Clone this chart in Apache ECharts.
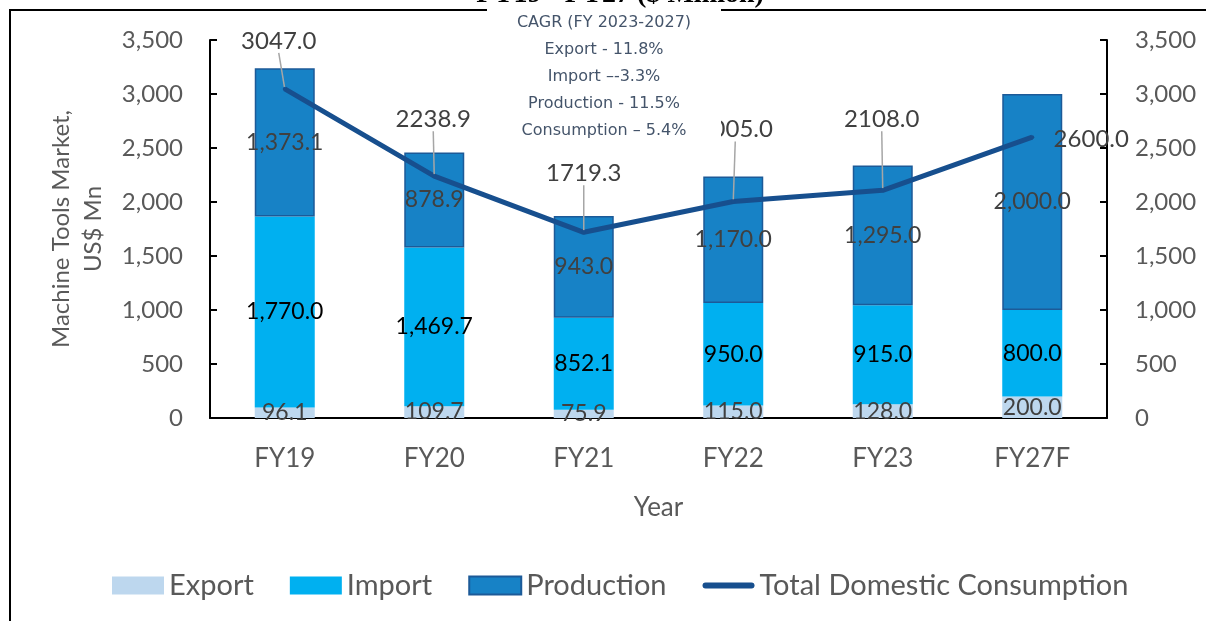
<!DOCTYPE html>
<html>
<head>
<meta charset="utf-8">
<title>Machine Tools Market</title>
<script src="https://cdn.jsdelivr.net/npm/echarts@6/dist/echarts.min.js"></script>
<style>html,body{margin:0;padding:0;background:#fff;}</style>
</head>
<body>
<div id="main" style="width:1206px;height:621px;"></div>
<script type="text/javascript">
    // chart data
    var years = ['FY19', 'FY20', 'FY21', 'FY22', 'FY23', 'FY27F'];
    var exportVals = [96.1, 109.7, 75.9, 115.0, 128.0, 200.0];
    var importVals = [1770.0, 1469.7, 852.1, 950.0, 915.0, 800.0];
    var productionVals = [1373.1, 878.9, 943.0, 1170.0, 1295.0, 2000.0];
    var consumptionVals = [3047.0, 2238.9, 1719.3, 2005.0, 2108.0, 2600.0];
    var cagrLines = ['CAGR (FY 2023-2027)', 'Export - 11.8%', 'Import \u2013-3.3%', 'Production - 11.5%', 'Consumption \u2013 5.4%'];

    var FONT = 'Lato';
    var lineColor = '#174F8E';
    // callout shifts for the consumption labels (manually placed in the original)
    var calloutDx = [-6, -1, 0, 2, -1];
    var calloutDy = [-34, -43, -45, -58, -57];

    function fmtComma(v) {
        return Number(v).toLocaleString('en-US', {minimumFractionDigits: 1, maximumFractionDigits: 1});
    }

    var lastIdx = consumptionVals.length - 1;
    var lineData = consumptionVals.map(function (v, i) {
        return {value: v, labelLine: {show: i !== lastIdx}};
    });

    var myChart = echarts.init(document.getElementById('main'));

    var option = {
        backgroundColor: '#fff',
        animation: false,
        title: {
            text: 'FY19 - FY27 ($ Million)',
            left: 620,
            textAlign: 'center',
            top: -19,
            padding: 0,
            textStyle: {fontFamily: 'Liberation Serif', fontWeight: 'bold', fontSize: 28, color: '#000'}
        },
        graphic: [{
            type: 'rect',
            z: 0,
            shape: {x: 10, y: 10, width: 1400, height: 800},
            style: {fill: 'none', stroke: '#000', lineWidth: 2}
        }, {
            type: 'group',
            z: 100,
            children: [{
                type: 'rect',
                z: 100,
                shape: {x: 487, y: 8, width: 234, height: 134},
                style: {fill: '#fff'}
            }, {
                type: 'text',
                z: 101,
                style: {
                    text: cagrLines.join('\n'),
                    x: 604, y: 9,
                    align: 'center',
                    verticalAlign: 'top',
                    fontFamily: 'DejaVu Sans',
                    fontSize: 16,
                    lineHeight: 27,
                    fill: '#44546A'
                }
            }]
        }],
        legend: {
            left: 107,
            top: 566,
            itemWidth: 52,
            itemHeight: 18,
            itemGap: 36,
            textStyle: {fontFamily: FONT, fontSize: 29, color: '#595959'},
            data: [
                {name: 'Export', icon: 'rect'},
                {name: 'Import', icon: 'rect'},
                {name: 'Production', icon: 'rect'},
                {name: 'Total Domestic Consumption', icon: 'path://M3,0 H49 A3,3 0 0 1 49,6 H3 A3,3 0 0 1 3,0 Z'}
            ]
        },
        grid: {left: 210, right: 99, top: 40, bottom: 203},
        xAxis: {
            type: 'category',
            data: years,
            name: 'Year',
            nameLocation: 'middle',
            nameGap: 77,
            nameTextStyle: {fontFamily: FONT, fontSize: 26, color: '#595959'},
            axisLine: {lineStyle: {color: '#000', width: 2}},
            axisTick: {show: false},
            axisLabel: {fontFamily: FONT, fontSize: 26, color: '#595959', margin: 28}
        },
        yAxis: [{
            type: 'value',
            min: 0, max: 3500, interval: 500,
            name: 'Machine Tools Market,\nUS$ Mn',
            nameLocation: 'middle',
            nameGap: 101,
            nameTextStyle: {fontFamily: FONT, fontSize: 24, color: '#595959', lineHeight: 32},
            axisLine: {show: true, lineStyle: {color: '#000', width: 2}},
            axisTick: {show: true, inside: true, length: 7, lineStyle: {color: '#000', width: 2}},
            splitLine: {show: false},
            axisLabel: {fontFamily: FONT, fontSize: 24, color: '#595959', margin: 27,
                formatter: function (v) { return v.toLocaleString('en-US'); }}
        }, {
            type: 'value',
            min: 0, max: 3500, interval: 500,
            axisLine: {show: true, lineStyle: {color: '#000', width: 2}},
            axisTick: {show: true, inside: true, length: 7, lineStyle: {color: '#000', width: 2}},
            splitLine: {show: false},
            axisLabel: {fontFamily: FONT, fontSize: 24, color: '#595959', margin: 28,
                formatter: function (v) { return v.toLocaleString('en-US'); }}
        }],
        series: [{
            name: 'Export',
            type: 'bar',
            stack: 'total',
            barWidth: 60,
            data: exportVals,
            itemStyle: {color: '#BDD7EE'},
            label: {show: true, position: 'inside', fontFamily: FONT, fontSize: 23, color: '#404040',
                formatter: function (p) { return fmtComma(p.value); }}
        }, {
            name: 'Import',
            type: 'bar',
            stack: 'total',
            data: importVals,
            itemStyle: {color: '#00B0F0'},
            label: {show: true, position: 'inside', fontFamily: FONT, fontSize: 23, color: '#000',
                formatter: function (p) { return fmtComma(p.value); }}
        }, {
            name: 'Production',
            type: 'bar',
            stack: 'total',
            data: productionVals,
            itemStyle: {color: '#1782C6', borderColor: '#1C5A98', borderWidth: 1.5},
            label: {show: true, position: 'inside', fontFamily: FONT, fontSize: 23, color: '#404040',
                formatter: function (p) { return fmtComma(p.value); }}
        }, {
            name: 'Total Domestic Consumption',
            type: 'line',
            yAxisIndex: 1,
            z: 5,
            data: lineData,
            symbol: 'circle',
            symbolSize: 4,
            itemStyle: {color: lineColor},
            lineStyle: {color: lineColor, width: 5},
            label: {show: true, position: 'top', distance: 0, fontFamily: FONT, fontSize: 24, color: '#404040',
                formatter: function (p) { return p.value.toFixed(1); }},
            labelLine: {show: true, lineStyle: {color: '#A6A6A6', width: 1.5}},
            labelLayout: function (params) {
                var i = params.dataIndex;
                if (i === lastIdx) {
                    return {dx: 59, dy: 16};
                }
                return {dx: calloutDx[i], dy: calloutDy[i]};
            }
        }]
    };

    myChart.setOption(option);
</script>
</body>
</html>
